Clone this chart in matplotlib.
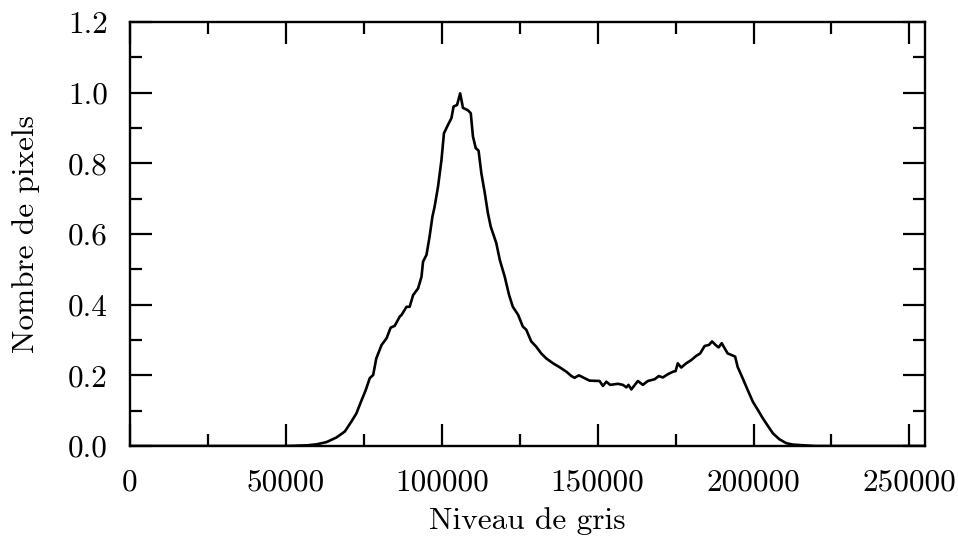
import matplotlib
matplotlib.use("Agg")
import matplotlib.pyplot as plt
from matplotlib.ticker import MultipleLocator

plt.rcParams['font.family'] = ['cmr10', 'DejaVu Serif']
plt.rcParams['mathtext.fontset'] = 'cm'
plt.rcParams['axes.formatter.use_mathtext'] = True

# Data (grey level, normalised pixel count)
niveau = [0, 50000, 53500, 57000, 60000, 63000, 66200, 68900, 71000, 72600, 74300,
          75600, 76900, 78000, 79000, 80700, 82300, 83600, 84900, 86500, 87100,
          88700, 89700, 90800, 92400, 93500, 94000, 95100, 96100, 97000, 97700,
          98800, 99900, 100700, 102000, 103100, 103800, 104900, 105900, 106800,
          108400, 109300, 110000, 110900, 111800, 112700, 113800, 114800, 115700,
          117500, 118600, 120200, 121600, 122800, 124500, 126000, 127100, 128700,
          130300, 131900, 133500, 135700, 137800, 140000, 141600, 142600, 144000,
          145800, 147400, 150600, 151700, 152800, 154000, 156500, 158100, 159200,
          159900, 160800, 162900, 164500, 166100, 168300, 169600, 170900, 172500,
          174100, 175000, 175700, 176800, 178400, 180000, 181600, 182900, 184300,
          185700, 186700, 187800, 188800, 189800, 190700, 191700, 192800, 194100,
          194900, 196500, 198100, 199800, 201400, 203000, 204600, 206200, 208300,
          210500, 212600, 216000, 220000, 255000]
pixels = [0.0, 0.0, 0.001, 0.002, 0.005, 0.011, 0.024, 0.041, 0.069, 0.092, 0.130,
          0.158, 0.192, 0.201, 0.248, 0.286, 0.305, 0.335, 0.340, 0.366, 0.371,
          0.394, 0.394, 0.427, 0.446, 0.479, 0.522, 0.541, 0.593, 0.649, 0.677,
          0.734, 0.809, 0.885, 0.909, 0.928, 0.961, 0.965, 0.998, 0.957,
          0.950, 0.942, 0.876, 0.843, 0.836, 0.772, 0.716, 0.659, 0.621,
          0.574, 0.527, 0.479, 0.427, 0.394, 0.371, 0.338, 0.329, 0.296,
          0.281, 0.262, 0.248, 0.234, 0.223, 0.210, 0.198, 0.193, 0.200,
          0.192, 0.185, 0.184, 0.170, 0.182, 0.173, 0.176, 0.173, 0.166,
          0.173, 0.160, 0.184, 0.173, 0.184, 0.189, 0.198, 0.194, 0.203,
          0.210, 0.212, 0.234, 0.222, 0.234, 0.243, 0.255, 0.262, 0.283,
          0.286, 0.296, 0.286, 0.279, 0.291, 0.277, 0.262, 0.258, 0.253,
          0.224, 0.192, 0.159, 0.125, 0.102, 0.078, 0.057, 0.036, 0.019,
          0.008, 0.004, 0.002, 0.0, 0.0]

xticks = [0, 50000, 100000, 150000, 200000, 250000]
xtick_labels = ["0", "50000", "100000", "150000", "200000", "250000"]
yticks = [0.0, 0.2, 0.4, 0.6, 0.8, 1.0, 1.2]
ytick_labels = ["0.0", "0.2", "0.4", "0.6", "0.8", "1.0", "1.2"]

fig = plt.figure(figsize=(9.58, 5.5), dpi=100)
ax = fig.add_axes([130/958, 1-446/550, (925-130)/958, (446-22)/550])
ax.plot(niveau, pixels, color='black', lw=1.9)

ax.set_xlim(0, 255000)
ax.set_ylim(0, 1.2)
ax.set_xticks(xticks)
ax.set_xticklabels(xtick_labels)
ax.set_yticks(yticks)
ax.set_yticklabels(ytick_labels)
ax.xaxis.set_minor_locator(MultipleLocator(25000))
ax.yaxis.set_minor_locator(MultipleLocator(0.1))

ax.tick_params(which='both', direction='in', top=True, right=True, width=1.6,
               labelsize=22.5, colors='black')
ax.tick_params(axis='x', which='major', length=16, pad=16)
ax.tick_params(axis='y', which='major', length=16, pad=16)
ax.tick_params(which='minor', length=8.5)
for s in ax.spines.values():
    s.set_linewidth(1.7)

ax.set_xlabel("Niveau de gris", fontsize=22.5, labelpad=8)
ax.set_ylabel("Nombre de pixels", fontsize=22.5, labelpad=20)

fig.savefig("out.png", dpi=100)
